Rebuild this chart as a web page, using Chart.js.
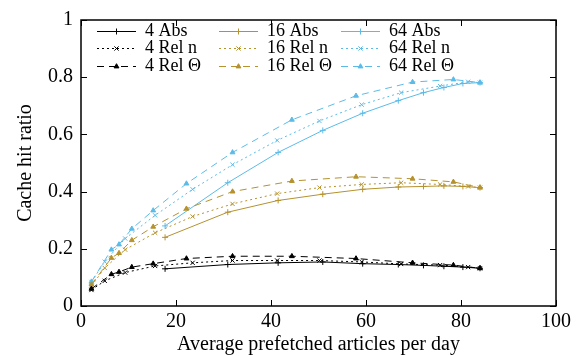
<!DOCTYPE html>
<html>
<head>
<meta charset="utf-8">
<script src="https://cdn.jsdelivr.net/npm/chart.js@4.4.0/dist/chart.umd.min.js"></script>
<style>
  html, body { margin: 0; padding: 0; background: #fff; }
</style>
</head>
<body>
<canvas id="grafico" width="580" height="356"></canvas>
<script>
// x positions of the measured points
var xAbs  = [17.7, 30.9, 41.5, 50.9, 59.3, 66.8, 72.1, 76.4, 80.4, 84];
var xRelN = [2.2, 5.0, 9.3, 15.6, 23.5, 31.9, 41.3, 50.2, 59.1, 67.4, 75.6, 81.5, 84];
var xRelT = [2.2, 6.4, 8.0, 10.7, 15.2, 22.2, 31.9, 44.4, 57.9, 69.8, 78.4, 84];

// cache hit ratio, group size 4
var abs4  = [0.130, 0.145, 0.151, 0.154, 0.148, 0.145, 0.142, 0.139, 0.136, 0.132];
var relN4 = [0.056, 0.088, 0.117, 0.140, 0.151, 0.159, 0.159, 0.159, 0.154, 0.147, 0.143, 0.136, 0.132];
var relT4 = [0.060, 0.111, 0.119, 0.136, 0.148, 0.166, 0.174, 0.174, 0.166, 0.151, 0.143, 0.132];

// group size 16
var abs16  = [0.240, 0.328, 0.369, 0.391, 0.408, 0.416, 0.418, 0.420, 0.418, 0.414];
var relN16 = [0.070, 0.133, 0.197, 0.256, 0.313, 0.357, 0.393, 0.414, 0.425, 0.431, 0.425, 0.418, 0.414];
var relT16 = [0.075, 0.168, 0.185, 0.230, 0.277, 0.340, 0.400, 0.437, 0.452, 0.445, 0.434, 0.414];

// group size 64
var abs64  = [0.280, 0.431, 0.537, 0.614, 0.674, 0.718, 0.746, 0.764, 0.778, 0.781];
var relN64 = [0.084, 0.155, 0.236, 0.317, 0.408, 0.494, 0.579, 0.647, 0.704, 0.746, 0.769, 0.784, 0.781];
var relT64 = [0.085, 0.197, 0.215, 0.270, 0.334, 0.428, 0.537, 0.651, 0.735, 0.783, 0.792, 0.781];

var xTicks = [0, 20, 40, 60, 80, 100];
var yTicks = [0, 0.2, 0.4, 0.6, 0.8, 1];

var fonte = 'Liberation Serif';

function pontos(xs, ys) {
    return xs.map(function (x, i) { return { x: x, y: ys[i] }; });
}

var cores = { '4': '#000000', '16': '#b5922e', '64': '#5bbbe8' };

function serie(label, grupo, xs, ys, tipo) {
    var estilos = {
        abs:  { dash: [],     ponto: 'cross',    raio: 3 },
        reln: { dash: [2, 3], ponto: 'crossRot', raio: 3 },
        relt: { dash: [7, 5], ponto: 'triangle', raio: 2.8 }
    };
    var e = estilos[tipo];
    return {
        label: label,
        data: pontos(xs, ys),
        borderColor: cores[grupo],
        backgroundColor: cores[grupo],
        borderWidth: 1,
        borderDash: e.dash,
        pointStyle: e.ponto,
        pointRadius: e.raio,
        pointBorderWidth: 1,
        pointHoverRadius: e.raio,
        fill: false,
        tension: 0
    };
}

var datasets = [
    serie('4 Abs', '4', xAbs, abs4, 'abs'),
    serie('4 Rel n', '4', xRelN, relN4, 'reln'),
    serie('4 Rel \u0398', '4', xRelT, relT4, 'relt'),
    serie('16 Abs', '16', xAbs, abs16, 'abs'),
    serie('16 Rel n', '16', xRelN, relN16, 'reln'),
    serie('16 Rel \u0398', '16', xRelT, relT16, 'relt'),
    serie('64 Abs', '64', xAbs, abs64, 'abs'),
    serie('64 Rel n', '64', xRelN, relN64, 'reln'),
    serie('64 Rel \u0398', '64', xRelT, relT64, 'relt')
];

// moldura com ticks para dentro, estilo gnuplot
var moldura = {
    id: 'moldura',
    afterDatasetsDraw: function (chart) {
        var ctx = chart.ctx, a = chart.chartArea;
        var sx = chart.scales.x, sy = chart.scales.y;
        var t = 6;
        ctx.save();
        ctx.strokeStyle = '#000';
        ctx.lineWidth = 1;
        ctx.beginPath();
        xTicks.forEach(function (v) {
            var px = Math.round(sx.getPixelForValue(v)) + 0.5;
            ctx.moveTo(px, a.bottom); ctx.lineTo(px, a.bottom - t);
            ctx.moveTo(px, a.top); ctx.lineTo(px, a.top + t);
        });
        yTicks.forEach(function (v) {
            var py = Math.round(sy.getPixelForValue(v)) + 0.5;
            ctx.moveTo(a.left, py); ctx.lineTo(a.left + t, py);
            ctx.moveTo(a.right, py); ctx.lineTo(a.right - t, py);
        });
        ctx.stroke();
        ctx.lineWidth = 1.5;
        ctx.strokeRect(a.left, a.top, a.right - a.left, a.bottom - a.top);
        ctx.restore();
    }
};

// legenda em 3 colunas dentro do gráfico
var legenda = {
    id: 'legenda',
    afterDraw: function (chart) {
        var ctx = chart.ctx;
        var x0 = 97, passoCol = 122, y0 = 31, passoLin = 17.3, comp = 39, gap = 9;
        ctx.save();
        ctx.font = '18px "' + fonte + '"';
        ctx.textBaseline = 'middle';
        ctx.fillStyle = '#000';
        chart.data.datasets.forEach(function (ds, i) {
            var col = Math.floor(i / 3), lin = i % 3;
            var x = x0 + col * passoCol, y = Math.round(y0 + lin * passoLin) + 0.5;
            ctx.strokeStyle = ds.borderColor;
            ctx.lineWidth = 1;
            ctx.setLineDash(ds.borderDash);
            ctx.beginPath();
            ctx.moveTo(x, y);
            ctx.lineTo(x + comp, y);
            ctx.stroke();
            ctx.setLineDash([]);
            ctx.fillStyle = ds.backgroundColor;
            Chart.helpers.drawPoint(ctx, {
                pointStyle: ds.pointStyle, radius: ds.pointRadius, rotation: 0, borderWidth: 1
            }, x + comp / 2, y);
            ctx.fillStyle = '#000';
            ctx.fillText(ds.label, x + comp + gap, y);
        });
        ctx.restore();
    }
};

var ctx = document.getElementById('grafico').getContext('2d');
var myChart = new Chart(ctx, {
    type: 'line',
    data: { datasets: datasets },
    options: {
        responsive: false,
        animation: false,
        devicePixelRatio: 1,
        layout: { padding: { top: 15, right: 24, left: 0, bottom: 0 } },
        plugins: {
            legend: { display: false },
            tooltip: { enabled: false }
        },
        scales: {
            x: {
                type: 'linear',
                min: 0,
                max: 100,
                afterBuildTicks: function (scale) {
                    scale.ticks = xTicks.map(function (v) { return { value: v }; });
                },
                afterFit: function (scale) { scale.height = 50; },
                grid: { display: false, drawTicks: false },
                border: { display: false },
                ticks: {
                    color: '#000',
                    padding: 4,
                    maxRotation: 0,
                    font: { family: fonte, size: 20 },
                    callback: function (v) { return String(v); }
                },
                title: {
                    display: true,
                    text: 'Average prefetched articles per day',
                    color: '#000',
                    font: { family: fonte, size: 20 },
                    padding: { top: 0, bottom: -1 }
                }
            },
            y: {
                min: 0,
                max: 1,
                afterBuildTicks: function (scale) {
                    scale.ticks = yTicks.map(function (v) { return { value: v }; });
                },
                afterFit: function (scale) { scale.width = 81; },
                grid: { display: false, drawTicks: false },
                border: { display: false },
                ticks: {
                    color: '#000',
                    padding: 8,
                    font: { family: fonte, size: 20 },
                    callback: function (v) { return String(v); }
                },
                title: {
                    display: true,
                    text: 'Cache hit ratio',
                    color: '#000',
                    font: { family: fonte, size: 20 },
                    padding: { top: 14, bottom: 0 }
                }
            }
        }
    },
    plugins: [moldura, legenda]
});
</script>
</body>
</html>
